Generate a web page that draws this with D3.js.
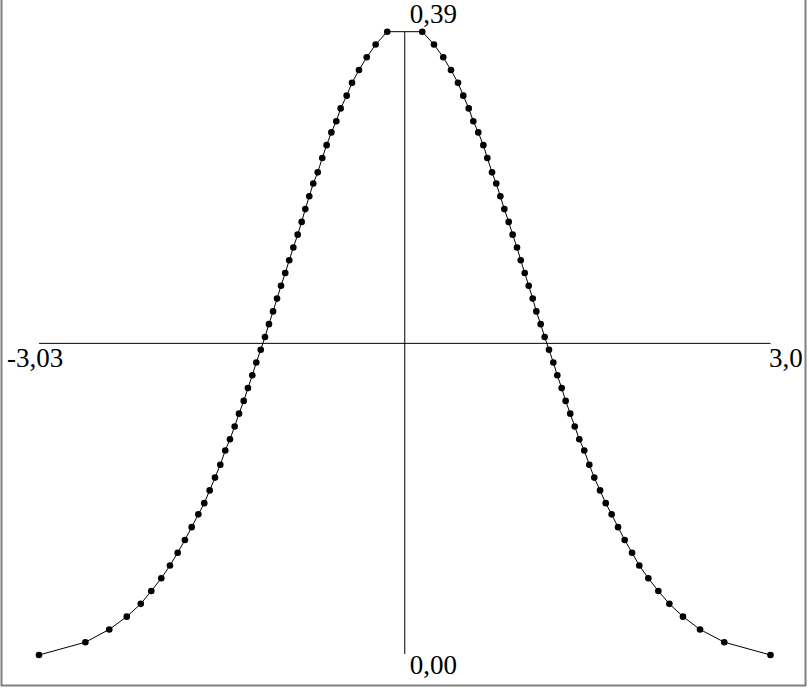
<!DOCTYPE html>
<html>
<head>
<meta charset="utf-8">
<script src="https://cdn.jsdelivr.net/npm/d3@7"></script>
<style>
  body { margin: 0; background: #fff; }
</style>
</head>
<body>
<div class="container"></div>
<script>
var width = 809;
var height = 688;

// axis ends and their labels (the right one is cut by the frame in the picture)
var xDomain = [-3.03, 3.03];
var yDomain = [0, 0.39];
var xLabels = ["-3,03", "3,0"];
var yLabels = ["0,00", "0,39"];

// points of the curve (left to right)
var xs = [-3.030, -2.646, -2.448, -2.303, -2.187, -2.100, -2.017, -1.945, -1.881, -1.821,
          -1.765, -1.710, -1.661, -1.616, -1.572, -1.528, -1.487, -1.448, -1.409, -1.373,
          -1.334, -1.299, -1.263, -1.230, -1.193, -1.158, -1.125, -1.091, -1.058, -1.025,
          -0.990, -0.957, -0.923, -0.887, -0.854, -0.824, -0.791, -0.758, -0.721, -0.683,
          -0.647, -0.608, -0.567, -0.531, -0.481, -0.437, -0.379, -0.315, -0.241, -0.145,
           0.145,  0.242,  0.319,  0.383,  0.441,  0.485,  0.530,  0.568,  0.609,  0.651,
           0.684,  0.723,  0.758,  0.792,  0.825,  0.861,  0.894,  0.930,  0.961,  0.994,
           1.027,  1.060,  1.090,  1.126,  1.159,  1.195,  1.231,  1.264,  1.300,  1.333,
           1.371,  1.408,  1.446,  1.487,  1.529,  1.570,  1.618,  1.665,  1.714,  1.767,
           1.822,  1.883,  1.943,  2.018,  2.101,  2.192,  2.305,  2.446,  2.647,  3.030];
var ys = [0.000, 0.008, 0.016, 0.024, 0.032, 0.040, 0.048, 0.056, 0.064, 0.072,
          0.080, 0.088, 0.095, 0.103, 0.111, 0.119, 0.128, 0.135, 0.143, 0.151,
          0.159, 0.167, 0.175, 0.183, 0.191, 0.199, 0.207, 0.215, 0.223, 0.231,
          0.239, 0.247, 0.255, 0.263, 0.271, 0.279, 0.287, 0.295, 0.302, 0.311,
          0.319, 0.327, 0.334, 0.342, 0.350, 0.358, 0.366, 0.374, 0.382, 0.390,
          0.390, 0.382, 0.374, 0.366, 0.358, 0.350, 0.342, 0.334, 0.327, 0.319,
          0.311, 0.302, 0.295, 0.287, 0.279, 0.271, 0.263, 0.255, 0.247, 0.239,
          0.231, 0.223, 0.215, 0.207, 0.199, 0.191, 0.183, 0.175, 0.167, 0.159,
          0.151, 0.143, 0.135, 0.128, 0.119, 0.111, 0.103, 0.095, 0.088, 0.080,
          0.072, 0.064, 0.056, 0.048, 0.040, 0.032, 0.024, 0.016, 0.008, 0.000];

var data = xs.map((d, i) => ({x: d, y: ys[i]}));

var svg = d3.select(".container")
  .append("svg")
  .attr("width", width)
  .attr("height", height)
  .style("display", "block");

var g = svg.append("g");

//-----------------------------------------
// SCALES
var xScale = d3.scaleLinear().domain(xDomain).range([39, 770.5]);
var yScale = d3.scaleLinear().domain(yDomain).range([655, 31.7]);
var yMid = yScale((yDomain[0] + yDomain[1]) / 2);

//-----------------------------------------
// AXES
g.append("line")
  .attr("x1", xScale(xDomain[0])).attr("x2", xScale(xDomain[1]))
  .attr("y1", yMid).attr("y2", yMid)
  .attr("stroke", "#000").attr("stroke-width", 1);

g.append("line")
  .attr("x1", xScale(0)).attr("x2", xScale(0))
  .attr("y1", yScale(yDomain[1])).attr("y2", yScale(yDomain[0]) - 1)
  .attr("stroke", "#000").attr("stroke-width", 1);

function label(txt, x, y) {
  g.append("text")
    .attr("x", x).attr("y", y)
    .attr("font-family", "'Liberation Serif', 'Times New Roman', serif")
    .attr("font-size", 27)
    .attr("fill", "#000")
    .text(txt);
}
label(xLabels[0], xScale(xDomain[0]) - 32, yMid + 24);
label(xLabels[1], xScale(xDomain[1]) - 1.5, yMid + 24);
label(yLabels[0], xScale(0) + 5, yScale(yDomain[0]) + 19);
label(yLabels[1], xScale(0) + 5, yScale(yDomain[1]) - 8.5);

//-----------------------------------------
// CURVE
var line = d3.line().x((d) => xScale(d.x)).y((d) => yScale(d.y));

g.append("path")
  .datum(data)
  .attr("d", line)
  .attr("fill", "none")
  .attr("stroke", "#000")
  .attr("stroke-width", 1);

g.selectAll(".dot")
  .data(data)
  .enter()
  .append("circle")
  .attr("class", "dot")
  .attr("cx", (d) => xScale(d.x))
  .attr("cy", (d) => yScale(d.y))
  .attr("r", 3.3)
  .attr("fill", "#000");

//-----------------------------------------
// FRAME
svg.append("path")
  .attr("d", "M1.5,0 V685.5 H805.5 V0")
  .attr("fill", "none")
  .attr("stroke", "#808080")
  .attr("stroke-width", 2);
</script>
</body>
</html>
